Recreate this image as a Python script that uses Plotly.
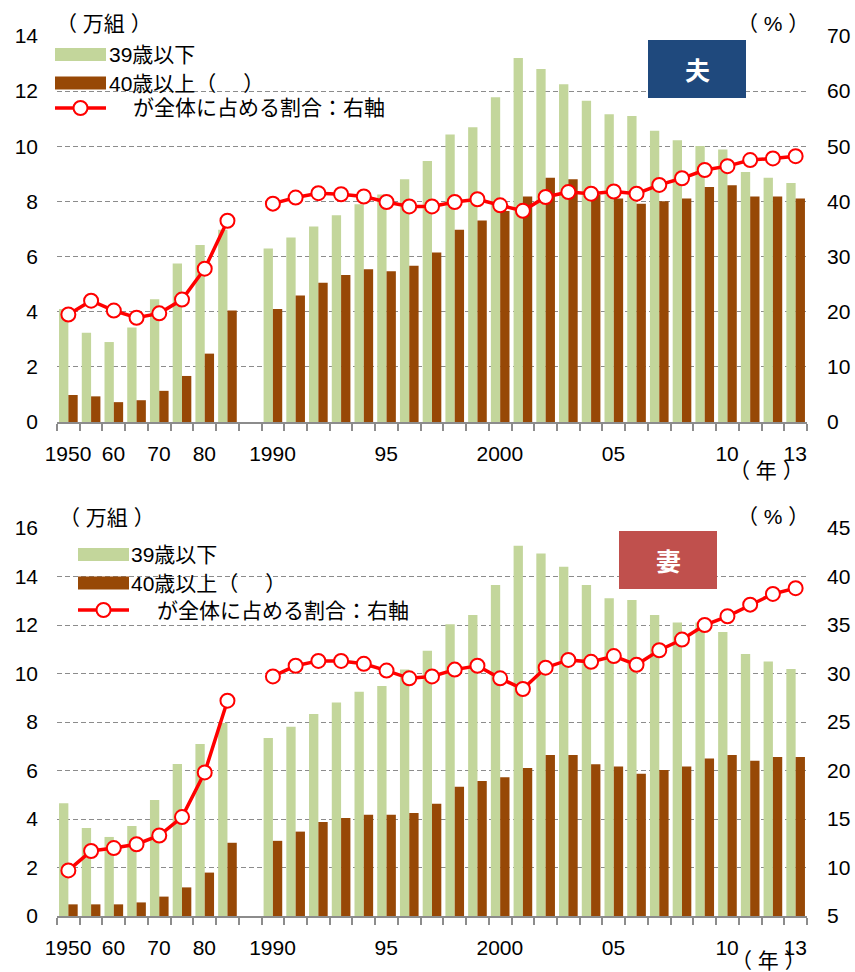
import plotly.graph_objects as go
from plotly.subplots import make_subplots

# Survey years: five-year steps up to 1985, then annual from 1990
years = [1950, 1955, 1960, 1965, 1970, 1975, 1980, 1985,
         1990, 1991, 1992, 1993, 1994, 1995, 1996, 1997, 1998, 1999,
         2000, 2001, 2002, 2003, 2004, 2005, 2006, 2007, 2008, 2009,
         2010, 2011, 2012, 2013]

# Husbands (万組)
husband_u39 = [4.10, 3.24, 2.90, 3.43, 4.45, 5.75, 6.42, 6.97,
               6.29, 6.69, 7.09, 7.50, 7.90, 8.25, 8.80, 9.47, 10.43, 10.69,
               11.78, 13.20, 12.80, 12.25, 11.65, 11.16, 11.10, 10.56, 10.22, 10.01,
               9.88, 9.07, 8.86, 8.67]
husband_o40 = [0.98, 0.93, 0.72, 0.79, 1.13, 1.67, 2.48, 4.04,
               4.10, 4.59, 5.05, 5.33, 5.54, 5.47, 5.67, 6.15, 6.97, 7.31,
               7.65, 8.18, 8.86, 8.80, 8.25, 8.11, 7.92, 8.01, 8.11, 8.52,
               8.59, 8.18, 8.18, 8.11]
husband_share = [19.5, 22.0, 20.2, 18.9, 19.7, 22.2, 27.8, 36.5,
                 39.6, 40.7, 41.5, 41.3, 40.9, 39.9, 39.1, 39.1, 39.9, 40.4,
                 39.3, 38.3, 40.8, 41.7, 41.4, 41.8, 41.4, 43.0, 44.2, 45.7,
                 46.4, 47.5, 47.8, 48.2]

# Wives (万組)
wife_u39 = [4.65, 3.63, 3.26, 3.71, 4.78, 6.27, 7.09, 7.96,
            7.34, 7.80, 8.33, 8.80, 9.25, 9.48, 10.17, 10.94, 12.03, 12.41,
            13.65, 15.27, 14.95, 14.40, 13.65, 13.10, 13.03, 12.41, 12.10, 12.10,
            11.71, 10.80, 10.49, 10.19]
wife_o40 = [0.48, 0.48, 0.48, 0.56, 0.80, 1.18, 1.79, 3.02,
            3.10, 3.48, 3.88, 4.04, 4.18, 4.18, 4.25, 4.63, 5.33, 5.57,
            5.72, 6.10, 6.64, 6.64, 6.26, 6.17, 5.87, 6.02, 6.17, 6.49,
            6.64, 6.40, 6.56, 6.56]
wife_share = [9.7, 11.7, 12.0, 12.4, 13.3, 15.2, 19.8, 27.2,
              29.7, 30.8, 31.3, 31.3, 31.0, 30.3, 29.5, 29.7, 30.4, 30.8,
              29.5, 28.4, 30.6, 31.4, 31.2, 31.8, 30.9, 32.4, 33.5, 35.0,
              35.9, 37.1, 38.2, 38.8]

tick_years = [1950, 1960, 1970, 1980, 1990, 1995, 2000, 2005, 2010, 2013]
tick_text = ["1950", "60", "70", "80", "1990", "95", "2000", "05", "10", "13"]

legend_labels = ["39歳以下", "40歳以上（　 ）", "が全体に占める割合：右軸"]

GREEN = "#C3D69B"
BROWN = "#974806"
RED = "#FF0000"
GRID = "#8C8C8C"
FONT = "Liberation Sans, Arial, Noto Sans CJK JP, sans-serif"
JFONT = "Liberation Sans, Noto Sans CJK JP, sans-serif"
FS = 21

# One category slot per survey year, with an empty slot between 1985 and 1990
pos = [i if y < 1990 else i + 1 for i, y in enumerate(years)]
gap_pos = pos[years.index(1985)] + 1
tick_pos = [pos[years.index(y)] for y in tick_years]
n_slots = pos[-1] + 1

# Tick marks sit on the slot boundaries; labels are shifted to the slot centre
boundaries = [b - 0.5 for b in range(n_slots + 1)]
boundary_text = [tick_text[tick_pos.index(b)] if b in tick_pos else ""
                 for b in range(n_slots + 1)]


def with_gap(values):
    """Insert a blank point in the empty slot so the line breaks there."""
    xs, ys = [], []
    for p, v in zip(pos, values):
        if p == gap_pos + 1:
            xs.append(gap_pos)
            ys.append(None)
        xs.append(p)
        ys.append(v)
    return xs, ys


W, H = 855, 972
ML, MR, MT, MB = 57, 48, 36, 56
PW, PH = W - ML - MR, H - MT - MB
SLOT_PX = PW / n_slots


def px(x):
    return (x - ML) / PW


def py(y):
    return (H - MB - y) / PH


fig = make_subplots(rows=2, cols=1,
                    specs=[[{"secondary_y": True}], [{"secondary_y": True}]])

panels = [(1, husband_u39, husband_o40, husband_share),
          (2, wife_u39, wife_o40, wife_share)]
for row, u39, o40, share in panels:
    fig.add_trace(go.Bar(x=pos, y=u39, name=legend_labels[0],
                         marker=dict(color=GREEN, line=dict(width=0)),
                         showlegend=False), row=row, col=1, secondary_y=False)
    fig.add_trace(go.Bar(x=pos, y=o40, name=legend_labels[1],
                         marker=dict(color=BROWN, line=dict(width=0)),
                         showlegend=False), row=row, col=1, secondary_y=False)
    lx, ly = with_gap(share)
    fig.add_trace(go.Scatter(x=lx, y=ly, name=legend_labels[2], mode="lines+markers",
                             connectgaps=False,
                             line=dict(color=RED, width=3.5),
                             marker=dict(size=14, color="white",
                                         line=dict(color=RED, width=2)),
                             showlegend=False), row=row, col=1, secondary_y=True)

top_dom = [py(422), 1.0]
bot_dom = [0.0, py(528)]

xaxis_common = dict(
    range=[-0.5, n_slots - 0.5], automargin=False,
    tickmode="array", tickvals=boundaries, ticktext=boundary_text,
    ticks="outside", ticklen=7, tickwidth=1.5, tickcolor=GRID,
    ticklabelshift=int(round(SLOT_PX / 2)), ticklabelstandoff=5,
    showline=True, linecolor=GRID, linewidth=1.5,
    showgrid=False, zeroline=False,
    tickfont=dict(family=FONT, size=FS, color="#000"),
)
yleft_common = dict(
    automargin=False,
    showgrid=True, gridcolor=GRID, griddash="5px,3px", gridwidth=1.3,
    zeroline=False, showline=False, ticks="", ticklabelstandoff=18,
    tickfont=dict(family=FONT, size=FS, color="#000"),
)
yright_common = dict(
    automargin=False,
    showgrid=False, zeroline=False, showline=False, ticks="",
    ticklabelstandoff=19,
    tickfont=dict(family=FONT, size=FS, color="#000"),
)

fig.update_layout(
    width=W, height=H,
    margin=dict(l=ML, r=MR, t=MT, b=MB, autoexpand=False),
    paper_bgcolor="white", plot_bgcolor="white",
    barmode="group", bargap=0.18, bargroupgap=0.0,
    showlegend=False,
    xaxis=dict(domain=[0, 1], **xaxis_common),
    xaxis2=dict(domain=[0, 1], **xaxis_common),
    yaxis=dict(domain=top_dom, range=[0, 14], dtick=2, tick0=0, **yleft_common),
    yaxis2=dict(range=[0, 70], dtick=10, tick0=0, **yright_common),
    yaxis3=dict(domain=bot_dom, range=[0, 16], dtick=2, tick0=0, **yleft_common),
    yaxis4=dict(range=[5, 45], dtick=5, tick0=5, **yright_common),
)

shapes = []
annotations = []

# White backing behind each legend block (hides the gridlines there)
shapes.append(dict(type="rect", xref="paper", yref="paper", layer="between",
                   x0=px(57), x1=px(408), y0=py(120), y1=py(41),
                   fillcolor="white", line=dict(width=0)))
shapes.append(dict(type="rect", xref="paper", yref="paper", layer="between",
                   x0=px(68), x1=px(432), y0=py(618), y1=py(540),
                   fillcolor="white", line=dict(width=0)))


def add_legend(x0, y_green, y_brown, y_line, text_x, line_text_x):
    shapes.append(dict(type="rect", xref="paper", yref="paper",
                       x0=px(x0), x1=px(x0 + 51), y0=py(y_green + 6.5), y1=py(y_green - 6.5),
                       fillcolor=GREEN, line=dict(width=0)))
    shapes.append(dict(type="rect", xref="paper", yref="paper",
                       x0=px(x0), x1=px(x0 + 51), y0=py(y_brown + 6.5), y1=py(y_brown - 6.5),
                       fillcolor=BROWN, line=dict(width=0)))
    shapes.append(dict(type="line", xref="paper", yref="paper",
                       x0=px(x0), x1=px(x0 + 51), y0=py(y_line), y1=py(y_line),
                       line=dict(color=RED, width=3.5)))
    cx = x0 + 25.5
    shapes.append(dict(type="circle", xref="paper", yref="paper",
                       x0=px(cx - 7), x1=px(cx + 7), y0=py(y_line + 7), y1=py(y_line - 7),
                       fillcolor="white", line=dict(color=RED, width=2)))
    for label, lx, ly in [(legend_labels[0], text_x, y_green),
                          (legend_labels[1], text_x, y_brown),
                          (legend_labels[2], line_text_x, y_line)]:
        annotations.append(dict(text=label, xref="paper", yref="paper",
                                x=px(lx), y=py(ly), xanchor="left", yanchor="middle",
                                showarrow=False,
                                font=dict(family=JFONT, size=FS, color="#000")))


add_legend(55, 54.5, 83, 108, 107, 131)
add_legend(78, 554.5, 583, 610, 129, 155)

# Panel title boxes
for label, color, x0, y0 in [("夫", "#1F497D", 648, 40), ("妻", "#C0504D", 619, 531)]:
    shapes.append(dict(type="rect", xref="paper", yref="paper",
                       x0=px(x0), x1=px(x0 + 98), y0=py(y0 + 58), y1=py(y0),
                       fillcolor=color, line=dict(width=0)))
    annotations.append(dict(text="<b>%s</b>" % label, xref="paper", yref="paper",
                            x=px(x0 + 49), y=py(y0 + 29), xanchor="center", yanchor="middle",
                            showarrow=False,
                            font=dict(family="Noto Sans CJK JP, sans-serif", size=25,
                                      color="white")))

# Unit labels
for text, x, y, anchor in [("（ 万組 ）", 54, 24, "left"), ("（ % ）", 811, 24, "right"),
                           ("（ 万組 ）", 57, 517, "left"), ("（ % ）", 811, 516, "right"),
                           ("（ 年 ）", 766, 471, "center"), ("（ 年 ）", 768, 961, "center")]:
    annotations.append(dict(text=text, xref="paper", yref="paper",
                            x=px(x), y=py(y), xanchor=anchor, yanchor="middle",
                            showarrow=False,
                            font=dict(family=JFONT, size=FS, color="#000")))

fig.update_layout(shapes=shapes, annotations=annotations)

fig.write_html("out.html")
